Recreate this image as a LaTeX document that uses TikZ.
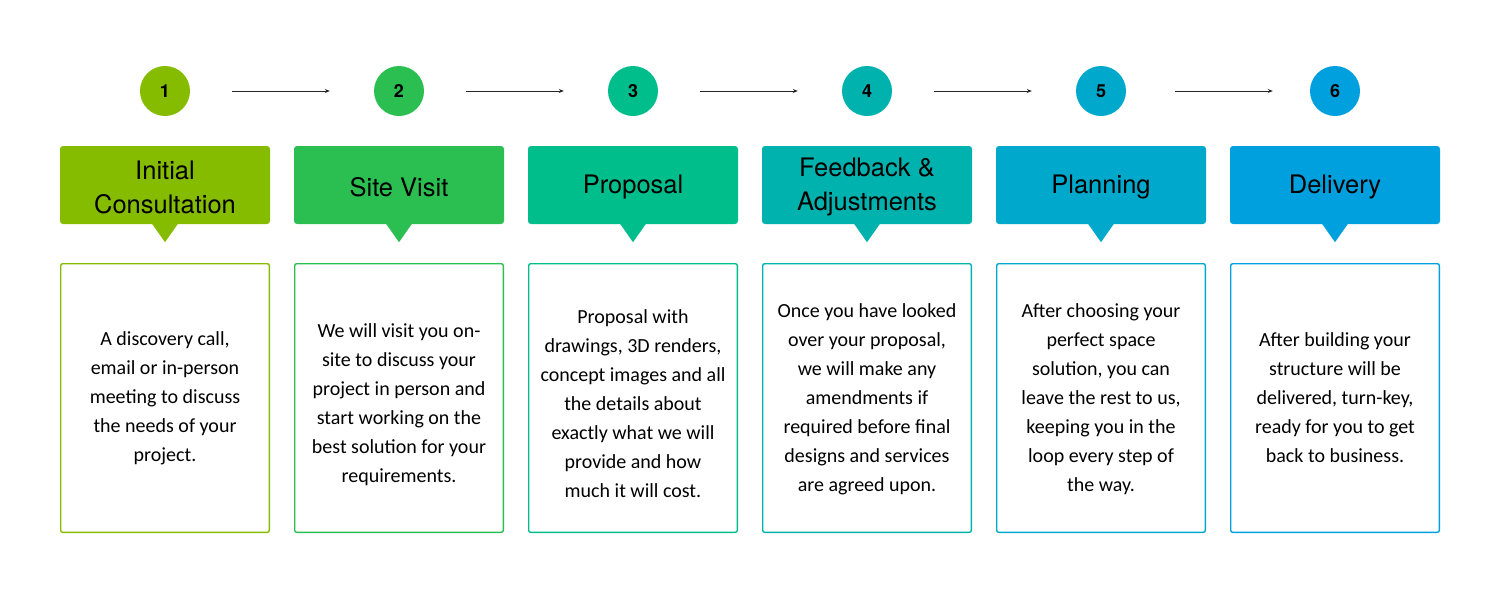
\documentclass[tikz,border=0pt]{standalone}
\usepackage{fontspec}
\setmainfont{Carlito}
\newfontfamily\headfont{TeX Gyre Heros}
\usetikzlibrary{arrows.meta,calc}
\definecolor{cA}{HTML}{86BC00}
\definecolor{cB}{HTML}{2BBF52}
\definecolor{cC}{HTML}{00BE8C}
\definecolor{cD}{HTML}{00B2AE}
\definecolor{cE}{HTML}{00A9CB}
\definecolor{cF}{HTML}{00A0DF}
\begin{document}
\begin{tikzpicture}[x=1pt,y=-1pt,
  numcirc/.style={circle,fill=#1,minimum size=50pt,inner sep=0pt,font=\headfont\bfseries\fontsize{18}{20}\selectfont},
  headbox/.style={rectangle,rounded corners=3pt,fill=#1,minimum width=210pt,minimum height=78pt,inner sep=0pt},
  headtext/.style={align=center,inner sep=0pt,font=\headfont\fontsize{25.5}{34}\selectfont},
  bodybox/.style={rectangle,rounded corners=2pt,draw=#1,line width=1.4pt,minimum width=208.6pt,minimum height=268.6pt,inner sep=0pt},
  bodytext/.style={align=center,inner sep=0pt,font=\fontsize{20}{29}\selectfont},
  flowarr/.style={draw=black!85,line width=0.9pt,-{Stealth[length=5pt,width=4pt]}}
]
\useasboundingbox (0,0) rectangle (1500,600);
\foreach \i/\x/\c/\s/\h/\b in {
  1/165/cA/0/{Initial\\Consultation}/{A discovery call,\\email or in-person\\meeting to discuss\\the needs of your\\project.},
  2/399/cB/7/{Site Visit}/{We will visit you on-\\site to discuss your\\project in person and\\start working on the\\best solution for your\\requirements.},
  3/633/cC/6/{Proposal}/{Proposal with\\drawings, 3D renders,\\concept images and all\\the details about\\exactly what we will\\provide and how\\much it will cost.},
  4/867/cD/1/{Feedback \&\\Adjustments}/{Once you have looked\\over your proposal,\\we will make any\\amendments if\\required before final\\designs and services\\are agreed upon.},
  5/1101/cE/1/{Planning}/{After choosing your\\perfect space\\solution, you can\\leave the rest to us,\\keeping you in the\\loop every step of\\the way.},
  6/1335/cF/0/{Delivery}/{After building your\\structure will be\\delivered, turn-key,\\ready for you to get\\back to business.}}
{
  \node[numcirc=\c] (n\i) at (\x,91) {\i};
  \node[headbox=\c] (h\i) at (\x,185) {};
  \node[headtext] (t\i) at ($(h\i.center)+(0,2)$) {\h};
  \fill[\c] ($(h\i.south)+(-13,-0.5)$) -- ($(h\i.south)+(13,-0.5)$) -- ($(h\i.south)+(0,18)$) -- cycle;
  \node[bodybox=\c] (b\i) at (\x,398) {};
  \node[bodytext] (d\i) at ($(b\i.center)+(0,\s)$) {\b};
}
\draw[flowarr,shorten <=42pt,shorten >=44pt] (n1) -- (n2);
\draw[flowarr,shorten <=42pt,shorten >=44pt] (n2) -- (n3);
\draw[flowarr,shorten <=42pt,shorten >=44pt] (n3) -- (n4);
\draw[flowarr,shorten <=42pt,shorten >=44pt] (n4) -- (n5);
\draw[flowarr,shorten <=49pt,shorten >=37pt] (n5) -- (n6);
\end{tikzpicture}
\end{document}
